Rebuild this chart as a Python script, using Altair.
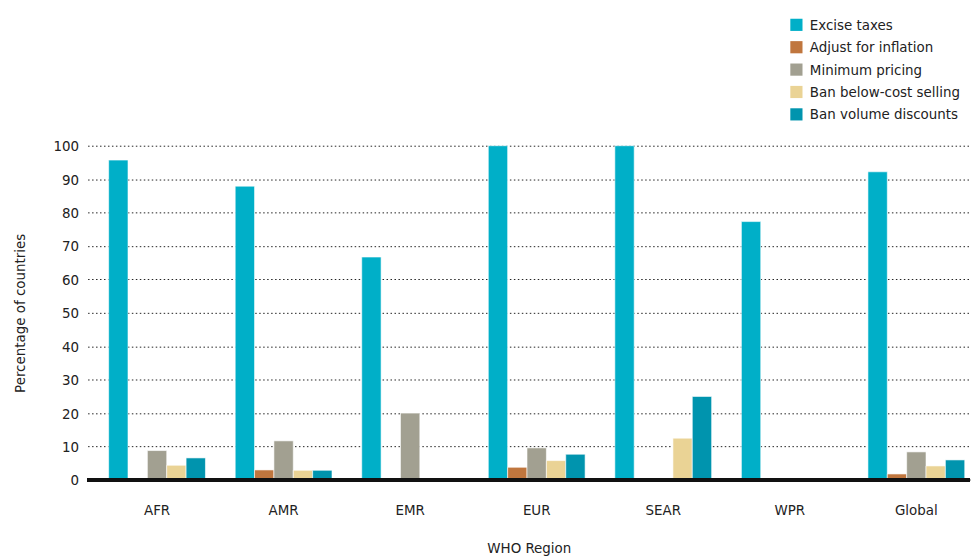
import altair as alt
import pandas as pd

regions = ["AFR", "AMR", "EMR", "EUR", "SEAR", "WPR", "Global"]
series = ["Excise taxes", "Adjust for inflation", "Minimum pricing",
          "Ban below-cost selling", "Ban volume discounts"]
colors = ["#00AFC8", "#C0763E", "#A2A091", "#EAD395", "#0094AE"]

excise = [95.7, 87.9, 66.7, 100, 100, 77.3, 92.2]
inflation = [0, 3.0, 0, 3.8, 0, 0, 1.8]
minimum = [8.8, 11.7, 20.0, 9.6, 0, 0, 8.4]
below_cost = [4.4, 2.9, 0, 5.8, 12.5, 0, 4.2]
volume = [6.6, 2.9, 0, 7.7, 25.0, 0, 6.0]

values = [excise, inflation, minimum, below_cost, volume]
rows = []
for s, vals in zip(series, values):
    for r, v in zip(regions, vals):
        rows.append({"region": r, "policy": s, "value": v})
df = pd.DataFrame(rows)

FONT = "Liberation Sans Narrow, DejaVu Sans Condensed, sans-serif"
W, H = 887, 336

bars = alt.Chart(df).mark_bar(stroke="white", strokeWidth=0.6).encode(
    x=alt.X("region:N", sort=regions, title="WHO Region",
            scale=alt.Scale(paddingInner=0.235, paddingOuter=0.104, align=0.8),
            axis=alt.Axis(domain=False, ticks=False, labelAngle=0, labelPadding=23,
                          titlePadding=23, labelFontSize=15, titleFontSize=15,
                          labelColor="#222", titleColor="#222", titleFontWeight="normal")),
    xOffset=alt.XOffset("policy:N", sort=series,
                        scale=alt.Scale(paddingInner=0, paddingOuter=0)),
    y=alt.Y("value:Q", title="Percentage of countries",
            scale=alt.Scale(domain=[0, 100], nice=False),
            axis=alt.Axis(values=list(range(0, 101, 10)), domain=False, ticks=False,
                          grid=True, gridColor="#222", gridDash=[1.5, 2.5], gridWidth=1,
                          labelPadding=9, titlePadding=26, labelFontSize=15,
                          titleFontSize=15, labelColor="#222", titleColor="#222",
                          titleFontWeight="normal")),
    color=alt.Color("policy:N", sort=series,
                    scale=alt.Scale(domain=series, range=colors),
                    legend=alt.Legend(title=None, orient="none", legendX=705, legendY=-129,
                                      symbolType="square", symbolSize=150,
                                      symbolStrokeWidth=0, labelFontSize=15,
                                      labelColor="#222", rowPadding=6.5,
                                      labelOffset=6)),
)

base_line = alt.Chart(df).mark_rule(color="#111", strokeWidth=3).encode(
    x=alt.value(0), x2=alt.value(W), y=alt.value(H)
)

chart = (bars + base_line).properties(
    width=W, height=H,
    padding={"left": 4, "top": 8, "right": 0, "bottom": 0},
).configure(font=FONT).configure_view(stroke=None)

chart.save("out.html", embed_options={"renderer": "svg", "actions": False})
